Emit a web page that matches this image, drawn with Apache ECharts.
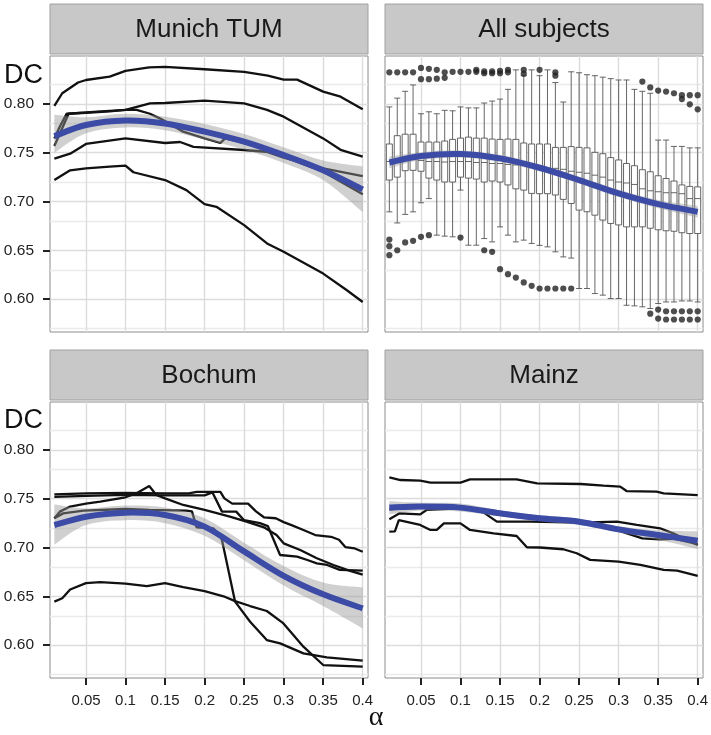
<!DOCTYPE html>
<html><head><meta charset="utf-8">
<script src="https://cdn.jsdelivr.net/npm/echarts@6/dist/echarts.min.js"></script>
<style>html,body{margin:0;padding:0;background:#fff}#c{width:711px;height:735px}</style>
</head><body><div id="c"></div>
<script>
// ---------- axis / tick values ----------
const panelTitles = ['Munich TUM', 'All subjects', 'Bochum', 'Mainz'];
const yTicks = [0.60, 0.65, 0.70, 0.75, 0.80];
const yMinorGrid = [0.575, 0.625, 0.675, 0.725, 0.775, 0.825];
const xTicks = [0.05, 0.1, 0.15, 0.2, 0.25, 0.3, 0.35, 0.4];
const xRange = [0.0045, 0.4067];
const yRange = [0.5662, 0.8492];
const yTitle = 'DC';
const xTitle = 'α';

// ---------- smooth fits (loess) with confidence bands ----------
const smoothX = [0.01, 0.05, 0.1, 0.15, 0.2, 0.25, 0.3, 0.35, 0.4];
const munichFit = [0.767, 0.7784, 0.783, 0.780, 0.7716, 0.7613, 0.7476, 0.732, 0.7124];
const munichLo  = [0.750, 0.770, 0.776, 0.773, 0.7636, 0.7533, 0.7396, 0.722, 0.689];
const munichHi  = [0.789, 0.7864, 0.790, 0.787, 0.7796, 0.7693, 0.7556, 0.742, 0.736];
const allFit = [0.740, 0.7466, 0.7487, 0.7442, 0.7346, 0.722, 0.7083, 0.6973, 0.6895];
const allLo  = [0.734, 0.7426, 0.7450, 0.7405, 0.7310, 0.7185, 0.7045, 0.6930, 0.6835];
const allHi  = [0.746, 0.7506, 0.7524, 0.7479, 0.7382, 0.7255, 0.7121, 0.7016, 0.6955];
const bochumFit = [0.723, 0.7316, 0.7357, 0.7333, 0.7214, 0.696, 0.671, 0.652, 0.6376];
const bochumLo  = [0.703, 0.723, 0.728, 0.725, 0.712, 0.687, 0.661, 0.640, 0.617];
const bochumHi  = [0.744, 0.740, 0.743, 0.741, 0.730, 0.705, 0.681, 0.664, 0.659];
const mainzFit = [0.7409, 0.742, 0.7409, 0.7351, 0.730, 0.7265, 0.7186, 0.7128, 0.707];
const mainzLo  = [0.734, 0.738, 0.737, 0.732, 0.727, 0.723, 0.7155, 0.708, 0.6985];
const mainzHi  = [0.7475, 0.746, 0.745, 0.738, 0.733, 0.7295, 0.7217, 0.7176, 0.7165];

// ---------- Munich TUM subjects ----------
const munichA = [[0.01,0.798],[0.02,0.811],[0.04,0.822],[0.05,0.8246],[0.08,0.828],[0.1,0.834],[0.13,0.8376],[0.15,0.838],[0.2,0.8356],[0.25,0.833],[0.28,0.829],[0.3,0.825],[0.317,0.825],[0.35,0.8127],[0.372,0.8075],[0.4,0.7945]];
const munichB = [[0.01,0.757],[0.028,0.790],[0.06,0.792],[0.1,0.794],[0.131,0.8007],[0.15,0.801],[0.2,0.8034],[0.25,0.8007],[0.279,0.794],[0.3,0.787],[0.35,0.7647],[0.372,0.753],[0.4,0.746]];
const munichC = [[0.01,0.7647],[0.017,0.777],[0.0255,0.79],[0.05,0.791],[0.08,0.7925],[0.1,0.794],[0.114,0.794],[0.131,0.79],[0.144,0.785],[0.173,0.7716],[0.2,0.7647],[0.22,0.760],[0.226,0.7647],[0.25,0.76],[0.279,0.753],[0.3,0.746],[0.35,0.7305],[0.4,0.7075]];
const munichD = [[0.01,0.744],[0.03,0.749],[0.05,0.759],[0.1,0.7647],[0.15,0.760],[0.169,0.761],[0.186,0.756],[0.25,0.7528],[0.278,0.751],[0.3,0.745],[0.35,0.734],[0.4,0.726]];
const munichE = [[0.01,0.722],[0.03,0.732],[0.05,0.734],[0.08,0.7357],[0.1,0.7367],[0.11,0.730],[0.15,0.722],[0.177,0.7117],[0.2,0.6973],[0.215,0.6946],[0.25,0.6758],[0.279,0.657],[0.3,0.6484],[0.35,0.6261],[0.38,0.609],[0.4,0.597]];

// ---------- Bochum subjects ----------
const bochumA = [[0.01,0.7545],[0.05,0.7555],[0.1,0.756],[0.15,0.7555],[0.18,0.7555],[0.19,0.757],[0.22,0.757],[0.225,0.7504],[0.235,0.745],[0.255,0.745],[0.265,0.737],[0.275,0.731],[0.29,0.730],[0.3,0.726],[0.31,0.723],[0.325,0.718],[0.34,0.7128],[0.36,0.711],[0.37,0.708],[0.378,0.7005],[0.39,0.699],[0.4,0.6957]];
const bochumB = [[0.01,0.752],[0.05,0.753],[0.1,0.754],[0.15,0.7535],[0.2,0.7535],[0.21,0.7565],[0.222,0.7368],[0.24,0.7368],[0.25,0.728],[0.27,0.725],[0.28,0.722],[0.2955,0.6923],[0.317,0.6906],[0.33,0.6872],[0.342,0.6838],[0.355,0.6821],[0.371,0.677],[0.4,0.6764]];
const bochumC = [[0.01,0.730],[0.017,0.7368],[0.03,0.742],[0.05,0.745],[0.068,0.747],[0.1,0.7515],[0.114,0.7556],[0.13,0.763],[0.139,0.7538],[0.15,0.7504],[0.173,0.7436],[0.2,0.7385],[0.232,0.7316],[0.253,0.7265],[0.275,0.7207],[0.291,0.7128],[0.3,0.7043],[0.321,0.6974],[0.342,0.689],[0.363,0.6821],[0.384,0.676],[0.4,0.6721]];
const bochumD = [[0.01,0.730],[0.021,0.735],[0.047,0.7378],[0.1,0.7395],[0.13,0.7385],[0.177,0.7378],[0.184,0.737],[0.19,0.7207],[0.211,0.7197],[0.22,0.7111],[0.222,0.7077],[0.2386,0.6445],[0.2576,0.6239],[0.2787,0.6051],[0.2956,0.6017],[0.325,0.5915],[0.3547,0.5874],[0.4,0.584]];
const bochumE = [[0.01,0.6445],[0.02,0.648],[0.03,0.657],[0.05,0.6635],[0.068,0.6645],[0.1,0.663],[0.127,0.6604],[0.15,0.6635],[0.173,0.6594],[0.2,0.6553],[0.224,0.650],[0.2386,0.645],[0.2576,0.640],[0.2787,0.6349],[0.2998,0.6222],[0.325,0.5983],[0.35,0.5795],[0.4,0.5778]];

// ---------- Mainz subjects ----------
const mainzA = [[0.01,0.772],[0.024,0.7692],[0.049,0.7685],[0.062,0.7665],[0.1,0.7665],[0.112,0.7699],[0.171,0.7699],[0.197,0.7658],[0.252,0.7651],[0.281,0.7634],[0.302,0.7624],[0.31,0.7579],[0.348,0.7572],[0.357,0.7555],[0.4,0.7538]];
const mainzB = [[0.01,0.7162],[0.017,0.7165],[0.022,0.7282],[0.049,0.7231],[0.062,0.718],[0.07,0.718],[0.079,0.7248],[0.1,0.7248],[0.112,0.718],[0.142,0.7145],[0.171,0.7118],[0.184,0.7002],[0.2,0.700],[0.23,0.6982],[0.247,0.6941],[0.264,0.6873],[0.3,0.6856],[0.3275,0.6821],[0.357,0.677],[0.374,0.6764],[0.4,0.671]];
const mainzC = [[0.01,0.7289],[0.023,0.7351],[0.049,0.734],[0.057,0.7385],[0.1,0.7402],[0.129,0.736],[0.146,0.7265],[0.188,0.7265],[0.251,0.7255],[0.298,0.7265],[0.323,0.7231],[0.3525,0.7197],[0.369,0.7145],[0.4,0.7026]];
const mainzD = [[0.01,0.739],[0.05,0.741],[0.1,0.7405],[0.129,0.738],[0.15,0.735],[0.188,0.7325],[0.251,0.7265],[0.298,0.7179],[0.33,0.7094],[0.352,0.7084],[0.37,0.709],[0.4,0.7035]];

// ---------- All subjects boxplots ----------
const boxAlpha = [0.01,0.02,0.03,0.04,0.05,0.06,0.07,0.08,0.09,0.10,0.11,0.12,0.13,0.14,0.15,0.16,0.17,0.18,0.19,0.20,0.21,0.22,0.23,0.24,0.25,0.26,0.27,0.28,0.29,0.30,0.31,0.32,0.33,0.34,0.35,0.36,0.37,0.38,0.39,0.40];
const boxHigh = [0.797,0.806,0.813,0.8195,0.790,0.792,0.790,0.7935,0.793,0.797,0.796,0.796,0.801,0.803,0.805,0.815,0.835,0.829,0.835,0.829,0.835,0.822,0.802,0.833,0.832,0.830,0.829,0.8275,0.826,0.8246,0.8246,0.815,0.813,0.811,0.763,0.763,0.7565,0.7565,0.755,0.755];
const boxQ3 = [0.759,0.7675,0.769,0.769,0.761,0.761,0.761,0.762,0.7637,0.765,0.766,0.765,0.765,0.764,0.7637,0.764,0.7637,0.760,0.759,0.759,0.759,0.7555,0.7555,0.7563,0.7555,0.755,0.7504,0.749,0.745,0.7426,0.739,0.7367,0.7326,0.7305,0.7264,0.7236,0.721,0.717,0.7155,0.715];
const boxMed = [0.741,0.7435,0.7435,0.743,0.742,0.741,0.741,0.7405,0.741,0.741,0.741,0.740,0.740,0.739,0.739,0.738,0.7375,0.737,0.736,0.735,0.734,0.734,0.733,0.731,0.730,0.729,0.727,0.725,0.722,0.720,0.719,0.7175,0.713,0.711,0.710,0.709,0.709,0.708,0.703,0.703];
const boxQ1 = [0.722,0.725,0.7316,0.732,0.731,0.724,0.722,0.720,0.720,0.725,0.724,0.723,0.720,0.721,0.720,0.717,0.713,0.7117,0.7083,0.708,0.708,0.7067,0.7022,0.698,0.6912,0.6895,0.686,0.681,0.6775,0.676,0.674,0.674,0.674,0.6726,0.671,0.670,0.6695,0.668,0.6672,0.6672];
const boxLow = [0.6894,0.678,0.6868,0.6894,0.6987,0.703,0.6655,0.6645,0.6638,0.7117,0.6552,0.6552,0.662,0.6586,0.674,0.6655,0.6586,0.6604,0.657,0.655,0.6535,0.6484,0.6432,0.642,0.6108,0.6108,0.6056,0.604,0.6005,0.6005,0.5936,0.593,0.592,0.5903,0.5954,0.597,0.597,0.598,0.598,0.597];
const outliers = [
 [0.01,0.8325],[0.02,0.8325],[0.03,0.8325],[0.04,0.8325],[0.05,0.837],[0.05,0.8254],[0.06,0.836],[0.06,0.8254],[0.07,0.835],[0.07,0.826],[0.08,0.8325],[0.08,0.8268],[0.09,0.833],[0.10,0.833],[0.11,0.833],[0.12,0.833],[0.12,0.835],[0.13,0.8335],[0.13,0.8315],[0.14,0.8335],[0.14,0.8315],[0.15,0.834],[0.15,0.8315],[0.16,0.835],[0.16,0.8325],[0.18,0.835],[0.18,0.831],[0.20,0.835],[0.22,0.8325],[0.22,0.829],
 [0.33,0.823],[0.34,0.817],[0.35,0.8137],[0.36,0.8127],[0.37,0.811],[0.38,0.809],[0.38,0.805],[0.39,0.809],[0.39,0.7997],[0.40,0.809],[0.40,0.7945],
 [0.01,0.661],[0.01,0.6542],[0.01,0.645],[0.02,0.650],[0.03,0.658],[0.04,0.6597],[0.05,0.6638],[0.06,0.6655],[0.10,0.663],[0.13,0.650],[0.14,0.6484],[0.15,0.6306],[0.16,0.6255],[0.17,0.622],[0.18,0.617],[0.19,0.6135],[0.20,0.6108],[0.21,0.6108],[0.22,0.6108],[0.23,0.6108],[0.24,0.6108],
 [0.34,0.585],[0.35,0.5892],[0.35,0.580],[0.36,0.5875],[0.36,0.579],[0.37,0.5875],[0.37,0.579],[0.38,0.5875],[0.38,0.579],[0.39,0.5875],[0.39,0.579],[0.40,0.5875],[0.40,0.579]
];

// ---------- layout (styling only) ----------
const grids = [
  {left: 50, top: 56, width: 318, height: 276},
  {left: 385, top: 56, width: 318, height: 276},
  {left: 50, top: 402, width: 318, height: 276},
  {left: 385, top: 402, width: 318, height: 276}
];
const stripTops = [4, 4, 350, 350];
const stripH = 50;
const FONT = '"Liberation Sans", Arial, Helvetica, sans-serif';

const panelLines = [
  [munichA, munichB, munichC, munichD, munichE],
  [],
  [bochumA, bochumB, bochumC, bochumD, bochumE],
  [mainzA, mainzB, mainzC, mainzD]
];
const panelFits = [
  [munichFit, munichLo, munichHi],
  [allFit, allLo, allHi],
  [bochumFit, bochumLo, bochumHi],
  [mainzFit, mainzLo, mainzHi]
];

// Catmull-Rom spline through pixel points -> cubic Bezier path commands
function splineCmds(pts) {
  let d = '';
  for (let k = 0; k < pts.length - 1; k++) {
    const p0 = pts[k - 1] || pts[k], p1 = pts[k], p2 = pts[k + 1], p3 = pts[k + 2] || pts[k + 1];
    const c1 = [p1[0] + (p2[0] - p0[0]) / 6, p1[1] + (p2[1] - p0[1]) / 6];
    const c2 = [p2[0] - (p3[0] - p1[0]) / 6, p2[1] - (p3[1] - p1[1]) / 6];
    d += ' C' + c1[0] + ',' + c1[1] + ' ' + c2[0] + ',' + c2[1] + ' ' + p2[0] + ',' + p2[1];
  }
  return d;
}

const chart = echarts.init(document.getElementById('c'), null, {renderer: 'canvas', width: 711, height: 735});

const xAxes = [], yAxes = [], series = [], graphics = [];
grids.forEach((g, i) => {
  const bottomRow = i >= 2, leftCol = i % 2 === 0;
  xAxes.push({
    type: 'value', gridIndex: i, min: xRange[0], max: xRange[1],
    axisLine: {show: false}, splitLine: {show: false},
    axisTick: {show: bottomRow, customValues: xTicks, length: 7, lineStyle: {color: '#222', width: 2}},
    axisLabel: {show: bottomRow, customValues: xTicks, margin: 15, fontSize: 15, color: '#222', fontFamily: FONT}
  });
  yAxes.push({
    type: 'value', gridIndex: i, min: yRange[0], max: yRange[1],
    axisLine: {show: false}, splitLine: {show: false},
    axisTick: {show: leftCol, customValues: yTicks, length: 7, lineStyle: {color: '#222', width: 2}},
    axisLabel: {show: leftCol, customValues: yTicks, margin: 16, fontSize: 15.5, color: '#222', fontFamily: FONT,
                formatter: v => v.toFixed(2)}
  });
  // grid lines
  const major = {color: '#dcdcdc', width: 1.4, type: 'solid'};
  const minor = {color: '#ebebeb', width: 1.4, type: 'solid'};
  series.push({
    type: 'line', xAxisIndex: i, yAxisIndex: i, data: [], silent: true, animation: false, z: 1,
    markLine: {
      silent: true, symbol: ['none', 'none'], z: 1, animation: false, label: {show: false},
      data: [].concat(
        yMinorGrid.map(v => ({yAxis: v, lineStyle: minor})),
        yTicks.map(v => ({yAxis: v, lineStyle: major})),
        xTicks.map(v => ({xAxis: v, lineStyle: major}))
      )
    }
  });
  // subject lines
  panelLines[i].forEach(line => {
    series.push({
      type: 'line', xAxisIndex: i, yAxisIndex: i, data: line, symbol: 'none', silent: true,
      animation: false, z: 2, lineStyle: {color: '#111', width: 2.3}
    });
  });
  // boxplots for All subjects
  if (i === 1) {
    series.push({
      type: 'boxplot', xAxisIndex: 1, yAxisIndex: 1, layout: 'horizontal', boxWidth: [6, 6],
      silent: true, animation: false, z: 2,
      itemStyle: {color: '#ffffff', borderColor: '#555', borderWidth: 0.9},
      data: boxAlpha.map((a, k) => [a, boxLow[k], boxQ1[k], boxMed[k], boxQ3[k], boxHigh[k]])
    });
    series.push({
      type: 'scatter', xAxisIndex: 1, yAxisIndex: 1, data: outliers, symbolSize: 6.2,
      silent: true, animation: false, z: 3, itemStyle: {color: '#222'}
    });
  }
  // confidence band + fitted curve (custom series through the axis scales)
  const [fit, lo, hi] = panelFits[i];
  series.push({
    type: 'custom', xAxisIndex: i, yAxisIndex: i, silent: true, animation: false, z: 4, clip: true,
    data: smoothX.map((x, k) => [x, lo[k], hi[k], fit[k]]),
    encode: {x: 0, y: [1, 2, 3]},
    renderItem: (params, api) => {
      if (params.dataIndex !== 0) return null;
      const n = smoothX.length;
      const top = [], bot = [], mid = [];
      for (let k = 0; k < n; k++) {
        top.push(api.coord([smoothX[k], hi[k]]));
        bot.push(api.coord([smoothX[n - 1 - k], lo[n - 1 - k]]));
        mid.push(api.coord([smoothX[k], fit[k]]));
      }
      const bandPath = 'M' + top[0][0] + ',' + top[0][1] + splineCmds(top) +
        ' L' + bot[0][0] + ',' + bot[0][1] + splineCmds(bot) + ' Z';
      const fitPath = 'M' + mid[0][0] + ',' + mid[0][1] + splineCmds(mid);
      return {
        type: 'group',
        children: [
          {type: 'path', shape: {pathData: bandPath}, style: {fill: 'rgba(150,150,150,0.45)', stroke: null}},
          {type: 'path', shape: {pathData: fitPath}, style: {fill: null, stroke: '#3b4ba6', lineWidth: 6}}
        ]
      };
    }
  });
  // strip
  graphics.push({
    type: 'rect', z: 10, shape: {x: g.left, y: stripTops[i], width: g.width, height: stripH},
    style: {fill: '#c8c8c8', stroke: '#a0a0a0', lineWidth: 1}
  });
  graphics.push({
    type: 'text', z: 11, x: g.left + g.width / 2, y: stripTops[i] + stripH / 2 + 1,
    style: {text: panelTitles[i], fontSize: 26, fontFamily: FONT, fill: '#1a1a1a', align: 'center', verticalAlign: 'middle'}
  });
});
graphics.push({type: 'text', z: 11, x: 4, y: 76, style: {text: yTitle, fontSize: 27, fontFamily: FONT, fill: '#111', align: 'left', verticalAlign: 'middle'}});
graphics.push({type: 'text', z: 11, x: 4, y: 421, style: {text: yTitle, fontSize: 27, fontFamily: FONT, fill: '#111', align: 'left', verticalAlign: 'middle'}});
graphics.push({type: 'text', z: 11, x: 376, y: 718, style: {text: xTitle, fontSize: 28, fontFamily: '"Liberation Serif", "DejaVu Serif", serif', fill: '#111', align: 'center', verticalAlign: 'middle'}});

chart.setOption({
  animation: false,
  backgroundColor: '#ffffff',
  grid: grids.map(g => Object.assign({show: true, borderColor: '#8c8c8c', borderWidth: 1, backgroundColor: '#ffffff', containLabel: false, outerBoundsMode: 'none'}, g)),
  xAxis: xAxes,
  yAxis: yAxes,
  series: series,
  graphic: graphics
});
</script></body></html>
